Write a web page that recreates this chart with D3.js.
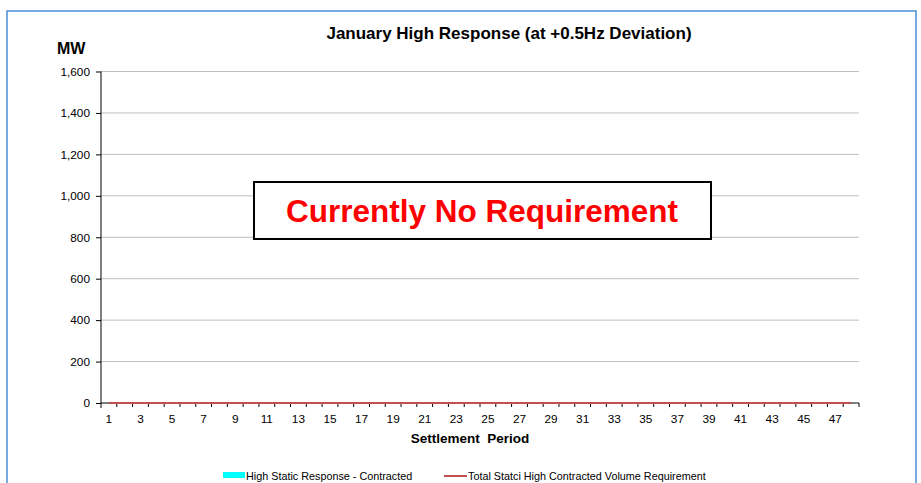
<!DOCTYPE html>
<html>
<head>
<meta charset="utf-8">
<script src="https://cdn.jsdelivr.net/npm/d3@7"></script>
<style>
  body { margin: 0; background: #fff; }
  svg { font-family: "Liberation Sans", Arial, sans-serif; }
</style>
</head>
<body>
<svg width="921" height="483"></svg>
<script>
// settlement periods 1..48
var periods = [1,2,3,4,5,6,7,8,9,10,11,12,13,14,15,16,17,18,19,20,21,22,23,24,
  25,26,27,28,29,30,31,32,33,34,35,36,37,38,39,40,41,42,43,44,45,46,47,48];
// both series are zero all day (no requirement)
var contracted = [0,0,0,0,0,0,0,0,0,0,0,0,0,0,0,0,0,0,0,0,0,0,0,0,
  0,0,0,0,0,0,0,0,0,0,0,0,0,0,0,0,0,0,0,0,0,0,0,0];
var requirement = [0,0,0,0,0,0,0,0,0,0,0,0,0,0,0,0,0,0,0,0,0,0,0,0,
  0,0,0,0,0,0,0,0,0,0,0,0,0,0,0,0,0,0,0,0,0,0,0,0];
var yTicks = [0,200,400,600,800,1000,1200,1400,1600];

var svg = d3.select("svg");

// outer frame
svg.append("rect")
  .attr("x", 7).attr("y", 11)
  .attr("width", 909).attr("height", 490)
  .attr("fill", "none")
  .attr("stroke", "#4a8fd8")
  .attr("stroke-width", 1.5);

var x = d3.scaleBand().domain(periods).range([101, 859]);
var y = d3.scaleLinear().domain([0, 1600]).range([403, 71.5]);

// gridlines
svg.append("g")
  .selectAll("line")
  .data(yTicks.filter(function (d) { return d > 0; }))
  .enter()
  .append("line")
  .attr("x1", 101).attr("x2", 859)
  .attr("y1", function (d) { return y(d); })
  .attr("y2", function (d) { return y(d); })
  .attr("stroke", "#bfbfbf")
  .attr("stroke-width", 1);

// bars (all zero height)
svg.append("g")
  .selectAll("rect")
  .data(contracted)
  .enter()
  .append("rect")
  .attr("x", function (d, i) { return x(periods[i]) + 2; })
  .attr("width", x.bandwidth() - 4)
  .attr("y", function (d) { return y(d); })
  .attr("height", function (d) { return y(0) - y(d); })
  .attr("fill", "#00ffff");

// y axis
var yAxis = svg.append("g")
  .attr("transform", "translate(101,0)")
  .call(d3.axisLeft(y).tickValues(yTicks).tickSize(5).tickPadding(6)
    .tickFormat(d3.format(",")));
yAxis.select(".domain").attr("stroke", "#000").attr("d", "M0,71.5V408");
yAxis.selectAll("text").style("font-size", "11.8px").attr("fill", "#000");

// x axis: ticks at band boundaries
var xAxis = svg.append("g").attr("transform", "translate(0,403)");
xAxis.append("line").attr("x1", 101).attr("x2", 859).attr("stroke", "#000");
xAxis.selectAll(".tk")
  .data(periods)
  .enter()
  .append("line")
  .attr("x1", function (d) { return x(d) + x.bandwidth(); })
  .attr("x2", function (d) { return x(d) + x.bandwidth(); })
  .attr("y1", 0).attr("y2", 4)
  .attr("stroke", "#000");
xAxis.selectAll("text")
  .data(periods.filter(function (d) { return d % 2 == 1; }))
  .enter()
  .append("text")
  .attr("x", function (d) { return x(d) + x.bandwidth() / 2; })
  .attr("y", 20)
  .attr("text-anchor", "middle")
  .style("font-size", "11.8px")
  .text(function (d) { return d; });

// requirement line
var line = d3.line()
  .x(function (d, i) { return x(periods[i]) + x.bandwidth() / 2; })
  .y(function (d) { return y(d); });
svg.append("path")
  .datum(requirement)
  .attr("d", line)
  .attr("fill", "none")
  .attr("stroke", "#c0504d")
  .attr("stroke-width", 2);

// titles
svg.append("text")
  .attr("x", 509).attr("y", 39)
  .attr("text-anchor", "middle")
  .style("font-size", "17px").style("font-weight", "bold")
  .text("January High Response (at +0.5Hz Deviation)");
svg.append("text")
  .attr("x", 57).attr("y", 54)
  .style("font-size", "16px").style("font-weight", "bold")
  .text("MW");
svg.append("text")
  .attr("x", 470).attr("y", 443)
  .attr("text-anchor", "middle")
  .style("font-size", "13.5px").style("font-weight", "bold")
  .style("white-space", "pre")
  .text("Settlement  Period");

// no requirement box
svg.append("rect")
  .attr("x", 254).attr("y", 182)
  .attr("width", 457).attr("height", 57)
  .attr("fill", "#fff")
  .attr("stroke", "#000")
  .attr("stroke-width", 2);
svg.append("text")
  .attr("x", 482).attr("y", 222)
  .attr("text-anchor", "middle")
  .style("font-size", "31.5px").style("font-weight", "bold")
  .attr("fill", "#ff0000")
  .text("Currently No Requirement");

// legend
var lg = svg.append("g").style("font-size", "10.8px");
lg.append("rect").attr("x", 223).attr("y", 472).attr("width", 22).attr("height", 6)
  .attr("fill", "#00ffff");
lg.append("text").attr("x", 246).attr("y", 480).text("High Static Response - Contracted");
lg.append("line").attr("x1", 444).attr("x2", 467).attr("y1", 476).attr("y2", 476)
  .attr("stroke", "#c0504d").attr("stroke-width", 2);
lg.append("text").attr("x", 468).attr("y", 480).text("Total Statci High Contracted Volume Requirement");
</script>
</body>
</html>
